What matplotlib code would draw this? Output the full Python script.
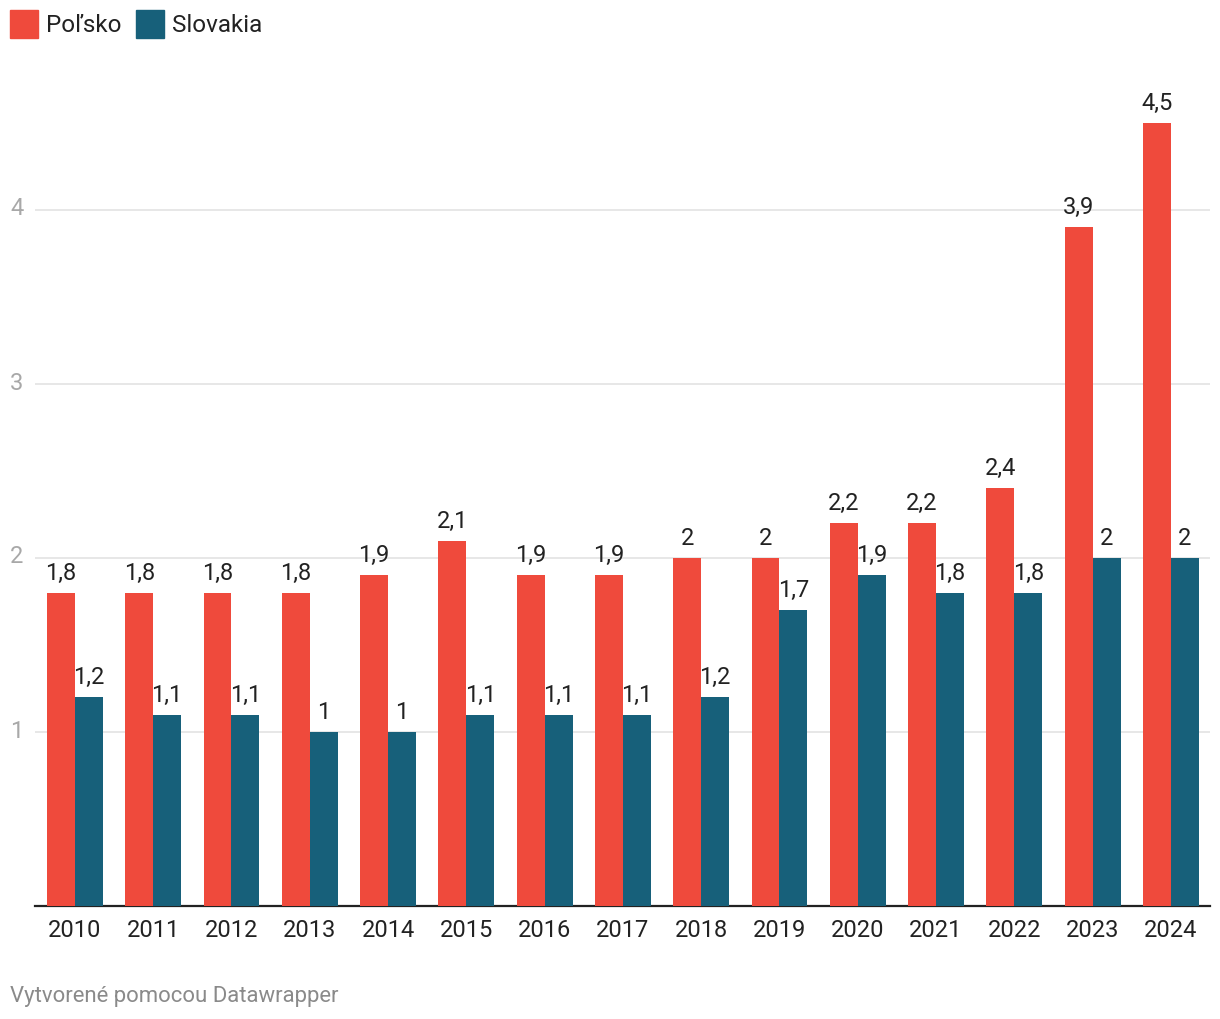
import matplotlib
matplotlib.use('Agg')
import matplotlib.pyplot as plt
from matplotlib.patches import Rectangle
import numpy as np

plt.rcParams['font.family'] = ['Roboto', 'DejaVu Sans']

years = ['2010', '2011', '2012', '2013', '2014', '2015', '2016', '2017',
         '2018', '2019', '2020', '2021', '2022', '2023', '2024']
polsko = [1.8, 1.8, 1.8, 1.8, 1.9, 2.1, 1.9, 1.9, 2.0, 2.0, 2.2, 2.2, 2.4, 3.9, 4.5]
slovakia = [1.2, 1.1, 1.1, 1.0, 1.0, 1.1, 1.1, 1.1, 1.2, 1.7, 1.9, 1.8, 1.8, 2.0, 2.0]
yticks = [1, 2, 3, 4]

red = '#ef4a3c'
teal = '#17607a'

W, H = 1220, 1020
fig = plt.figure(figsize=(W / 100, H / 100), dpi=100)

# axes in pixel coords: left 35, right 1210, bottom 907, top 60
left, right, bottom, top = 35, 1210, 907, 60
ax = fig.add_axes([left / W, 1 - bottom / H, (right - left) / W, (bottom - top) / H])

x = np.arange(len(years))
bw = 0.357
ax.bar(x - bw / 2, polsko, bw, color=red, zorder=3)
ax.bar(x + bw / 2, slovakia, bw, color=teal, zorder=3)

ax.set_xlim(-0.51, len(years) - 0.5)
ax.set_ylim(0, (bottom - top) / 174)

def fmt(v):
    s = ('%.1f' % v).rstrip('0').rstrip('.')
    return s.replace('.', ',')

for i in range(len(years)):
    ax.annotate(fmt(polsko[i]), (x[i] - bw / 2, polsko[i]), xytext=(0, 9),
                textcoords='offset pixels', ha='center', va='bottom',
                fontsize=17, color='#222222', zorder=4)
    ax.annotate(fmt(slovakia[i]), (x[i] + bw / 2, slovakia[i]), xytext=(0, 9),
                textcoords='offset pixels', ha='center', va='bottom',
                fontsize=17, color='#222222', zorder=4)

# grid
for t in yticks:
    ax.axhline(t, color='#e3e3e3', lw=1.2, zorder=1)
    ax.text(10 / W, 1 - (bottom - 174 * t - 2) / H, str(t), transform=fig.transFigure,
            ha='left', va='center', fontsize=17, color='#a8a8a8')

for s in ['top', 'right', 'left']:
    ax.spines[s].set_visible(False)
ax.spines['bottom'].set_color('#222222')
ax.spines['bottom'].set_linewidth(1.6)
ax.set_yticks([])
ax.set_xticks(x)
ax.set_xticklabels(years, fontsize=17, color='#222222')
ax.tick_params(axis='x', length=0, pad=9)

# legend
fig.patches.append(Rectangle((10 / W, 1 - 39 / H), 28 / W, 28 / H,
                             transform=fig.transFigure, color=red))
fig.text(46 / W, 1 - 26 / H, 'Poľsko', ha='left', va='center', fontsize=17.5, color='#222222')
fig.patches.append(Rectangle((136 / W, 1 - 39 / H), 28 / W, 28 / H,
                             transform=fig.transFigure, color=teal))
fig.text(172 / W, 1 - 26 / H, 'Slovakia', ha='left', va='center', fontsize=17.5, color='#222222')

# footer
fig.text(10 / W, 1 - 997 / H, 'Vytvorené pomocou Datawrapper', ha='left', va='center',
         fontsize=15.9, color='#8a8a8a')

plt.savefig('out.png', dpi=100)
